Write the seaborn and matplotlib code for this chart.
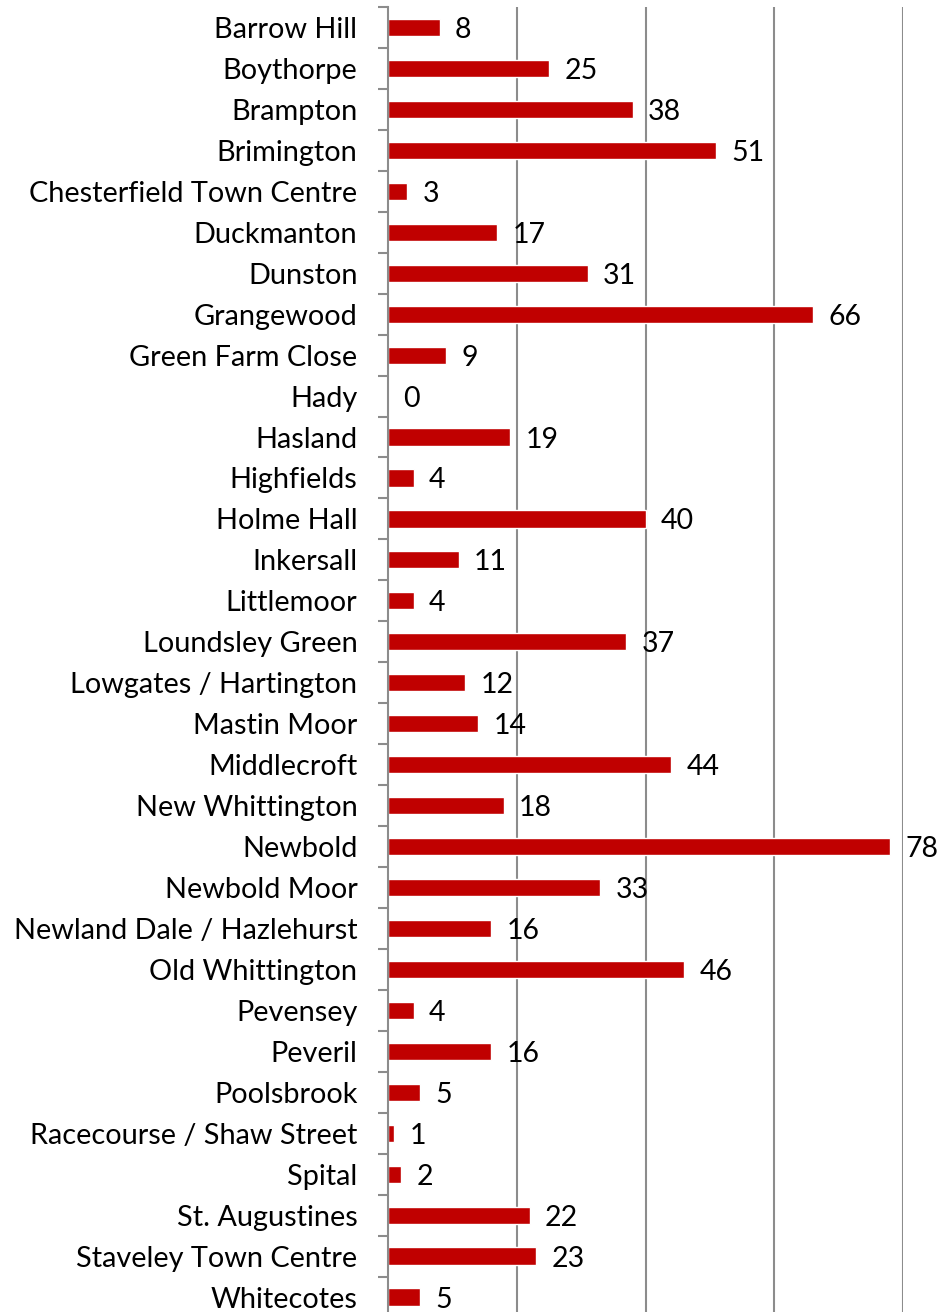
import numpy as np
import pandas as pd
import matplotlib
matplotlib.use("Agg")
import matplotlib.pyplot as plt
import seaborn as sns
from matplotlib.ticker import FixedLocator

# Data
areas = [
    "Barrow Hill", "Boythorpe", "Brampton", "Brimington",
    "Chesterfield Town Centre", "Duckmanton", "Dunston", "Grangewood",
    "Green Farm Close", "Hady", "Hasland", "Highfields", "Holme Hall",
    "Inkersall", "Littlemoor", "Loundsley Green", "Lowgates / Hartington",
    "Mastin Moor", "Middlecroft", "New Whittington", "Newbold",
    "Newbold Moor", "Newland Dale / Hazlehurst", "Old Whittington",
    "Pevensey", "Peveril", "Poolsbrook", "Racecourse / Shaw Street",
    "Spital", "St. Augustines", "Staveley Town Centre", "Whitecotes",
]
counts = [8, 25, 38, 51, 3, 17, 31, 66, 9, 0, 19, 4, 40, 11, 4, 37, 12,
          14, 44, 18, 78, 33, 16, 46, 4, 16, 5, 1, 2, 22, 23, 5]

df = pd.DataFrame({"area": areas, "count": counts})

sns.set_theme(style="white")
plt.rcParams["font.family"] = ["Lato", "DejaVu Sans"]

fig = plt.figure(figsize=(9.42, 13.12), dpi=100)
# plot area runs from y=7px down past the bottom edge of the image
ax = fig.add_axes([388 / 942, -5.5 / 1312, (903 - 388) / 942, 1310.5 / 1312])

sns.barplot(data=df, x="count", y="area", orient="h", color="#C00000",
            saturation=1, width=0.42, ax=ax)

ax.set_xlim(0, 80)
ax.set_ylim(len(areas) - 0.5, -0.5)
ax.set_xticks([20, 40, 60, 80])
ax.set_xticklabels([])
ax.tick_params(axis="x", length=0)
ax.xaxis.grid(True, color="#8c8c8c", linewidth=1.5)
ax.set_axisbelow(True)

# category labels, with boundary ticks between them
ax.tick_params(axis="y", which="major", length=0, pad=22, labelsize=20.8,
               labelcolor="black")
ax.yaxis.set_minor_locator(FixedLocator(np.arange(-0.5, len(areas), 1)))
ax.tick_params(axis="y", which="minor", length=7, width=1.5, color="#8c8c8c",
               direction="out", left=True)

for side in ["top", "right", "bottom"]:
    ax.spines[side].set_visible(False)
ax.spines["left"].set_color("#8c8c8c")
ax.spines["left"].set_linewidth(1.5)

ax.set_xlabel("")
ax.set_ylabel("")

labels = ax.bar_label(ax.containers[0], labels=[str(v) for v in counts],
                      padding=11, fontsize=20.5, color="black")
for t in labels:
    t.set_va("center_baseline")

fig.savefig("out.png", dpi=100)
